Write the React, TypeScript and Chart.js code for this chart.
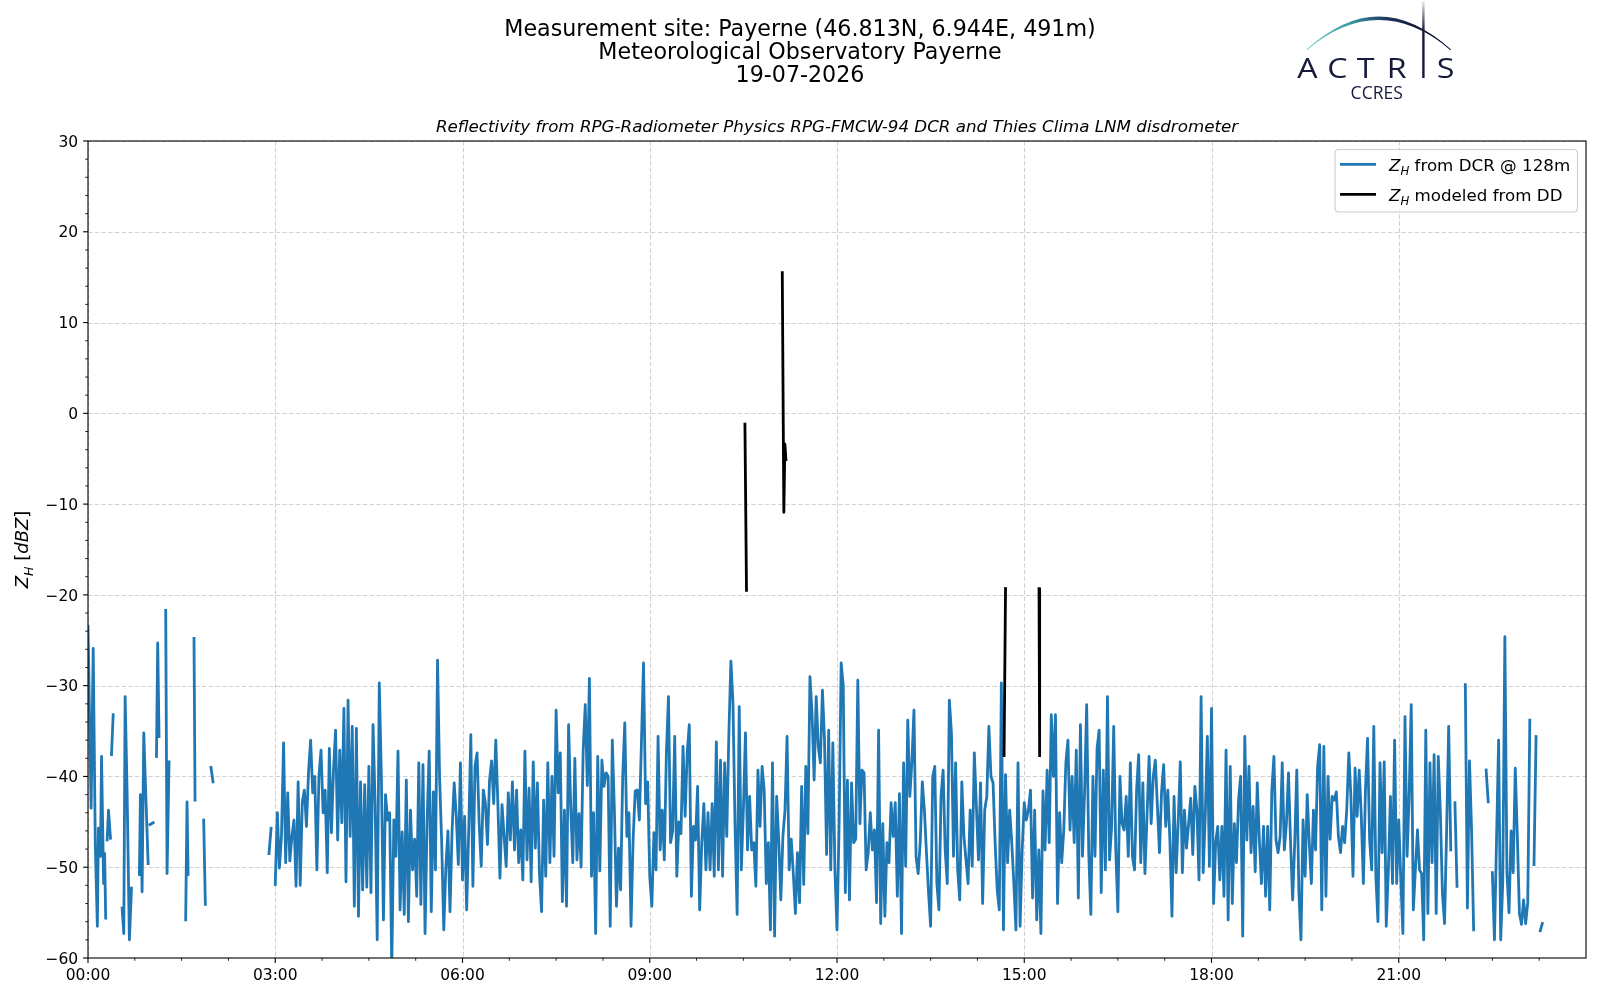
import React, { useEffect, useRef } from "react";
import { Chart, registerables } from "chart.js";

Chart.register(...registerables);

// ---------------- text ----------------
const titleLines = [
  "Measurement site: Payerne (46.813N, 6.944E, 491m)",
  "Meteorological Observatory Payerne",
  "19-07-2026",
];
const subtitle =
  "Reflectivity from RPG-Radiometer Physics RPG-FMCW-94 DCR and Thies Clima LNM disdrometer";
const legendDcrRest = " from DCR @ 128m";
const legendDdRest = " modeled from DD";

// ---------------- axes ----------------
const xMinMinute = 0;
const xMaxMinute = 1440;
const yMin = -60;
const yMax = 30;
const xTickMinutes = [0, 180, 360, 540, 720, 900, 1080, 1260];
const xTickLabels = ["00:00", "03:00", "06:00", "09:00", "12:00", "15:00", "18:00", "21:00"];
const xMinorMinutes = [45, 90, 135, 225, 270, 315, 405, 450, 495, 585, 630, 675, 765, 810, 855, 945, 990, 1035, 1125, 1170, 1215, 1305, 1350, 1395];
const yTickValues = [30, 20, 10, 0, -10, -20, -30, -40, -50, -60];
const yMinorValues = [28, 26, 24, 22, 18, 16, 14, 12, 8, 6, 4, 2, -2, -4, -6, -8, -12, -14, -16, -18, -22, -24, -26, -28, -32, -34, -36, -38, -42, -44, -46, -48, -52, -54, -56, -58];

// ---------------- data: DCR reflectivity @128m ----------------
// sparse early part (minutes after 00:00, dBZ); null = gap
const dcrEarlyMinutes = [0, 3, 5, 7, 9, 10, 12, 13, 15, 16, 17, 17.8, 18.4, 19.7, 21.6, 22.1, 22.6, 24.2, 28, 32.8, 34.4, 35.7, 37.6, 39.8, 41.8, 45, 49.4, 50.4, 52, 53.6, 55.5, 57.8, 58.7, 59.7, 62.6, 64, 65.8, 67, 68.3, 71, 74.7, 76, 77.9, 85, 93.9, 95.2, 96.2, 99, 101.9, 102.9, 107, 111.2, 112.8, 115, 118.2, 120.2];
const dcrEarlyDbz = [-23.5, -43.5, -25.9, -47.4, -56.5, -45.7, -48.8, -37.8, -51.8, -48.5, -55.6, null, -47, -43.7, -46.8, null, -37.6, -33.2, null, -54.5, -57.3, -31.2, -41.8, -58, -52.3, null, -50.8, -42, -52.7, -35.2, -41.8, -49.6, null, -45.3, -45.1, null, -37.8, -25.3, -35.6, null, -21.7, -50.7, -38.4, null, -55.8, -42.8, -50.8, null, -24.8, -42.6, null, -44.8, -54.1, null, -39, -40.6];

// regular part: one value every 2 minutes from 02:54
const dcrStartMinute = 174;
const dcrStepMinutes = 2;
const dcrDbz = [
  -48.5, -45.7, null, -51.9, -44, -50.1, -46.5, -36.3, -49.5, -41.8,
  -49.3, -46.6, -44.8, -52.1, -40.6, -52, -42.8, -41.5, -45.5, -39.5,
  -36, -41.8, -40, -50.3, -40, -37.1, -44, -41.5, -50.6, -36.9,
  -46.2, -39.3, -34.9, -47, -37.1, -45.1, -32.5, -51.6, -31.6, -46.6,
  -34.5, -54.3, -34.7, -55.4, -40.6, -52.5, -40.9, -52.2, -38.9, -52.8,
  -34.3, -43, -58, -29.7, -40, -55.8, -42, -44.8, -44, -61,
  -44.8, -48.8, -37.2, -54.7, -46.1, -55.2, -40.4, -56, -43.7, -50.3,
  -46.9, -53.2, -38.5, -54.1, -38.7, -57.3, -44.8, -37.2, -54.9, -41.7,
  -50.3, -27.2, -40.2, -47.3, -56.9, -50, -46, -54.9, -45.9, -40.7,
  -44.4, -49.7, -38.5, -51.4, -44.4, -54.7, -45.9, -35.4, -52.1, -38.9,
  -37.4, -45.1, -49.9, -41.5, -42.9, -47.5, -40.4, -38.3, -43, -36,
  -43, -51.2, -43.1, -46.6, -49.9, -41.8, -47, -40.6, -48.1, -41.5,
  -49.5, -45.9, -51.4, -37.2, -49.2, -41.3, -51.6, -38.4, -47.9, -40.7,
  -50.7, -54.9, -42.6, -51, -38.5, -49.5, -40, -48.8, -32.7, -41.8,
  -37.4, -53.8, -43.7, -54.3, -34.3, -43.3, -49.5, -38, -49.2, -44.1,
  -50, -37.1, -32.1, -41, -29.2, -51, -44, -57.3, -37.8, -50.4,
  -38.2, -41.1, -39.6, -40, -56.5, -36, -43.7, -54.3, -47.9, -52.5,
  -40, -34.1, -46.6, -44, -56.5, -47, -41.6, -41.5, -44.8, -36.3,
  -27.5, -43, -40.6, -51, -54.3, -46.2, -50.3, -35.6, -48.1, -43.7,
  -49.2, -37.4, -31.2, -47.3, -46, -35.6, -51, -45, -46.3, -36.7,
  -44.4, -37.4, -34.3, -53.2, -45.5, -47, -41.1, -54.7, -47.3, -43,
  -50.3, -44, -50.3, -43, -51, -36.2, -50.3, -38.2, -51, -38.5,
  -46.6, -35.6, -27.3, -31.9, -45.5, -55.2, -32.3, -50.3, -43.7, -35.2,
  -48.1, -42.2, -48.1, -47.3, -52.1, -39.3, -45.5, -38.9, -41.5, -51.8,
  -47.3, -56.9, -38.5, -57.6, -42.2, -47, -53.6, -46.6, -43.7, -35.6,
  -50.3, -46.9, -50.7, -55.1, -48.4, -53.9, -41.1, -51.9, -38.9, -46.3,
  -29, -33, -40.4, -31.2, -36.7, -38.5, -30.5, -36, -48.6, -34.9,
  -50.3, -36.3, -50.3, -56.9, -45.5, -27.5, -30, -52.8, -40.4, -53.6,
  -40.7, -47.3, -46.9, -29.4, -45.2, -39.3, -39.6, -50.3, -48.4, -44,
  -48.1, -45.9, -53.9, -34.9, -56.2, -45.2, -55.4, -47.3, -49.5, -42.9,
  -46.6, -42.9, -53.2, -41.9, -57.3, -38.5, -49.9, -33.8, -42.2, -38.4,
  -32.7, -48.8, -50.7, -47.3, -40.6, -43.7, -48.4, -52.8, -56.5, -40,
  -38.9, -51.8, -54.7, -42.2, -39.3, -48.1, -51.8, -31.6, -35.2, -48.8,
  -38.5, -50.3, -53.6, -40.6, -46.6, -49.2, -51.8, -43.7, -49.9, -37.4,
  -43.3, -49.2, -40.7, -54, -43.7, -42.2, -34.5, -40, -40.7, -47.3,
  -52.5, -54.7, -29.7, -56.9, -39.8, -49.5, -43.7, -47.3, -51.8, -56.9,
  -38.5, -56.5, -48.1, -42.9, -44.8, -43.7, -41.5, -53.4, -43.7, -55.8,
  -48.1, -57.3, -41.6, -48.1, -39.3, -47.3, -33.2, -40, -33.2, -54,
  -44, -49.5, -45.9, -38.5, -36, -45.9, -40, -47.3, -37.1, -53.4,
  -34.3, -48.8, -41.7, -32.1, -48.4, -55.2, -40, -48.8, -36.9, -34.9,
  -52.8, -39.3, -50.3, -31.2, -49.2, -45.5, -34.5, -48.1, -54.9, -40,
  -45.2, -45.9, -42.2, -48.8, -38.5, -48.8, -50.3, -41.5, -37.6, -49.5,
  -40.7, -50.7, -44.4, -37.8, -45.2, -40, -38.2, -43.3, -48.4, -41.7,
  -38.7, -45.5, -41.5, -47, -55.4, -42.2, -50.6, -45, -38.4, -50.6,
  -43.7, -47.9, -45.2, -42.4, -48.6, -41.1, -43.7, -51.4, -31.2, -50.6,
  -44.4, -35.6, -49.9, -32.5, -54, -47.3, -45.5, -51.4, -45.5, -53.2,
  -37.1, -55.8, -38.9, -54, -45.2, -49.5, -42.6, -40, -57.6, -35.6,
  -47, -38.9, -48.4, -43.3, -50.5, -40.7, -47, -51.8, -45.5, -53.2,
  -45.5, -54.7, -41.5, -37.8, -47, -48.4, -46.6, -38.5, -48.1, -45.2,
  -39.6, -47.3, -53.6, -47.3, -39.3, -52.8, -58, -44.8, -51, -42,
  -47.3, -51.8, -43.7, -48.1, -38.9, -36.5, -54.7, -36.7, -53.2, -40,
  -46.9, -42.2, -42.6, -41.7, -46.6, -48.4, -45.5, -47.3, -43.7, -37.4,
  -42.2, -51, -39.1, -44.4, -39.3, -44.4, -51.8, -41.5, -35.8, -47,
  -50.3, -34.5, -51, -56, -38.5, -48.4, -38.4, -56.5, -50.3, -42.2,
  -51.8, -36, -51.8, -44.8, -51.4, -57.3, -33.4, -48.8, -42.2, -32.1,
  -54.7, -50.3, -45.9, -50.3, -50.7, -58, -34.9, -55.1, -38.5, -49.5,
  -37.6, -55.1, -37.8, -44, -52.9, -56.2, -46.1, -34.5, -48.1, null,
  -42.9, -52.1, null, null, null, -29.9, -54.5, -38.3, -45.9, -56.9,
  null, null, null, null, null, -39.3, -42.8, null, -50.6, -58,
  -47, -36, -58, -51.6, -24.6, -50.6, -55, -46, -50.6, -39.1,
  -46.6, -55.1, -56.3, -53.6, -56.2, -53.9, -33.8, null, -49.7, -35.6,
  null, -57, -56.2,
];

// ---------------- data: Z_H modeled from disdrometer ----------------
const ddMinutes = [631.5, 633, 650, 667.4, 668.9, 669.9, 670.9, 800, 880.6, 882, 900, 914.2, 914.8];
const ddDbz = [-1.2, -19.5, null, 15.5, -10.9, -3.4, -5.1, null, -37.7, -19.3, null, -19.3, -37.7];

// ---------------- styles ----------------
const FONT = '"DejaVu Sans", "Liberation Sans", sans-serif';
const DCR_COLOR = "#1f77b4";
const DD_COLOR = "#000000";
const GRID_COLOR = "#d2d2d2";
const NAVY = "#161b3d";

type Seg = { t: string; it?: boolean; sub?: boolean };

function segFont(fs: number, s: Seg) {
  const size = s.sub ? fs * 0.7 : fs;
  return `${s.it ? "italic " : ""}${size}px ${FONT}`;
}
function segsWidth(ctx: CanvasRenderingContext2D, segs: Seg[], fs: number) {
  let w = 0;
  for (const s of segs) {
    ctx.font = segFont(fs, s);
    w += ctx.measureText(s.t).width;
  }
  return w;
}
function drawSegs(ctx: CanvasRenderingContext2D, segs: Seg[], x: number, y: number, fs: number) {
  ctx.textAlign = "left";
  ctx.textBaseline = "alphabetic";
  let cx = x;
  for (const s of segs) {
    ctx.font = segFont(fs, s);
    ctx.fillText(s.t, cx, y + (s.sub ? fs * 0.28 : 0));
    cx += ctx.measureText(s.t).width;
  }
}

function fmtY(v: number) {
  return v < 0 ? "\u2212" + Math.abs(v) : String(v);
}

function drawLogo(ctx: CanvasRenderingContext2D) {
  ctx.save();
  const g = ctx.createLinearGradient(1306, 0, 1451, 0);
  g.addColorStop(0, "#7fd3cc");
  g.addColorStop(0.3, "#3b9aa6");
  g.addColorStop(0.55, "#1f3a5f");
  g.addColorStop(0.72, NAVY);
  g.addColorStop(1, NAVY);
  ctx.fillStyle = g;
  ctx.beginPath();
  ctx.moveTo(1306.7, 49.8);
  ctx.quadraticCurveTo(1378.7, -16.6, 1450.7, 49.8);
  ctx.quadraticCurveTo(1378.7, -9.8, 1306.7, 49.8);
  ctx.closePath();
  ctx.fill();
  ctx.strokeStyle = g;
  ctx.lineWidth = 1.1;
  ctx.beginPath();
  ctx.moveTo(1306.7, 49.8);
  ctx.quadraticCurveTo(1378.7, -13.2, 1450.7, 49.8);
  ctx.stroke();

  const vg = ctx.createLinearGradient(0, 0, 0, 30);
  vg.addColorStop(0, "rgba(22,27,61,0.05)");
  vg.addColorStop(1, NAVY);
  ctx.fillStyle = vg;
  ctx.fillRect(1422.2, 1, 2.4, 77);

  ctx.fillStyle = NAVY;
  ctx.textAlign = "center";
  ctx.textBaseline = "alphabetic";
  ctx.font = `500 28px "Open Sans", ${FONT}`;
  const letters: [string, number][] = [["A", 1307.5], ["C", 1337.5], ["T", 1365.7], ["R", 1396.7], ["S", 1445.7]];
  for (const [ch, cx] of letters) {
    ctx.save();
    ctx.translate(cx, 77.7);
    ctx.scale(1.15, 1);
    ctx.fillText(ch, 0, 0);
    ctx.restore();
  }
  ctx.font = `400 17.5px "Open Sans", ${FONT}`;
  ctx.fillText("CCRES", 1376.7, 99);
  ctx.restore();
}

const decorPlugin = {
  id: "decor",
  beforeDraw(chart: any) {
    const ctx: CanvasRenderingContext2D = chart.ctx;
    const area = chart.chartArea;
    ctx.save();
    ctx.fillStyle = "#ffffff";
    ctx.fillRect(0, 0, chart.width, chart.height);
    ctx.fillStyle = "#000";
    ctx.textAlign = "center";
    ctx.textBaseline = "alphabetic";
    ctx.font = `22.2px ${FONT}`;
    const baselines = [36, 58.5, 81.5];
    titleLines.forEach((t, i) => ctx.fillText(t, 800, baselines[i]));
    ctx.font = `italic 16.7px ${FONT}`;
    ctx.fillText(subtitle, (area.left + area.right) / 2, 131.5);
    ctx.restore();
    drawLogo(ctx);
  },
  beforeDatasetsDraw(chart: any) {
    const ctx: CanvasRenderingContext2D = chart.ctx;
    const area = chart.chartArea;
    const xs = chart.scales.x;
    const ys = chart.scales.y;
    ctx.save();
    ctx.beginPath();
    ctx.rect(area.left, area.top, area.right - area.left, area.bottom - area.top);
    ctx.clip();
    ctx.strokeStyle = GRID_COLOR;
    ctx.lineWidth = 1.1;
    ctx.setLineDash([4.5, 2.2]);
    for (const m of xTickMinutes) {
      const px = Math.round(xs.getPixelForValue(m)) + 0.5;
      ctx.beginPath();
      ctx.moveTo(px, area.top);
      ctx.lineTo(px, area.bottom);
      ctx.stroke();
    }
    for (const v of yTickValues) {
      const py = Math.round(ys.getPixelForValue(v)) + 0.5;
      ctx.beginPath();
      ctx.moveTo(area.left, py);
      ctx.lineTo(area.right, py);
      ctx.stroke();
    }
    ctx.restore();
  },
  afterDatasetsDraw(chart: any) {
    const ctx: CanvasRenderingContext2D = chart.ctx;
    const area = chart.chartArea;
    const xs = chart.scales.x;
    const ys = chart.scales.y;
    ctx.save();
    // spines
    ctx.strokeStyle = "#000";
    ctx.lineWidth = 1.1;
    ctx.strokeRect(area.left, area.top, area.right - area.left, area.bottom - area.top);
    // ticks
    ctx.lineWidth = 1.1;
    for (const m of xTickMinutes) {
      const px = xs.getPixelForValue(m);
      ctx.beginPath();
      ctx.moveTo(px, area.bottom);
      ctx.lineTo(px, area.bottom + 4.9);
      ctx.stroke();
    }
    for (const v of yTickValues) {
      const py = ys.getPixelForValue(v);
      ctx.beginPath();
      ctx.moveTo(area.left, py);
      ctx.lineTo(area.left - 4.9, py);
      ctx.stroke();
    }
    ctx.lineWidth = 0.85;
    for (const m of xMinorMinutes) {
      const px = xs.getPixelForValue(m);
      ctx.beginPath();
      ctx.moveTo(px, area.bottom);
      ctx.lineTo(px, area.bottom + 2.8);
      ctx.stroke();
    }
    for (const v of yMinorValues) {
      const py = ys.getPixelForValue(v);
      ctx.beginPath();
      ctx.moveTo(area.left, py);
      ctx.lineTo(area.left - 2.8, py);
      ctx.stroke();
    }
    // tick labels
    const tfs = 15.5;
    ctx.fillStyle = "#000";
    ctx.font = `${tfs}px ${FONT}`;
    ctx.textAlign = "center";
    ctx.textBaseline = "alphabetic";
    xTickMinutes.forEach((m, i) => {
      ctx.fillText(xTickLabels[i], xs.getPixelForValue(m), area.bottom + 9.8 + tfs * 0.76);
    });
    ctx.textAlign = "right";
    for (const v of yTickValues) {
      ctx.fillText(fmtY(v), area.left - 9.8, ys.getPixelForValue(v) + tfs * 0.365);
    }
    // y label
    const lfs = 18;
    const ySegs: Seg[] = [{ t: "Z", it: true }, { t: "H", it: true, sub: true }, { t: " [" }, { t: "dBZ", it: true }, { t: "]" }];
    const lw = segsWidth(ctx, ySegs, lfs);
    ctx.save();
    ctx.translate(28, (area.top + area.bottom) / 2);
    ctx.rotate(-Math.PI / 2);
    drawSegs(ctx, ySegs, -lw / 2, 0, lfs);
    ctx.restore();

    // legend
    const lgFs = 16.7;
    const box = { l: 1335, t: 149.5, r: 1577.5, b: 212 };
    const rad = 4;
    ctx.beginPath();
    ctx.moveTo(box.l + rad, box.t);
    ctx.lineTo(box.r - rad, box.t);
    ctx.quadraticCurveTo(box.r, box.t, box.r, box.t + rad);
    ctx.lineTo(box.r, box.b - rad);
    ctx.quadraticCurveTo(box.r, box.b, box.r - rad, box.b);
    ctx.lineTo(box.l + rad, box.b);
    ctx.quadraticCurveTo(box.l, box.b, box.l, box.b - rad);
    ctx.lineTo(box.l, box.t + rad);
    ctx.quadraticCurveTo(box.l, box.t, box.l + rad, box.t);
    ctx.closePath();
    ctx.fillStyle = "rgba(255,255,255,0.8)";
    ctx.fill();
    ctx.strokeStyle = "#cccccc";
    ctx.lineWidth = 1.1;
    ctx.stroke();
    const rows: [string, string, number][] = [
      [DCR_COLOR, legendDcrRest, 164.3],
      [DD_COLOR, legendDdRest, 194.3],
    ];
    for (const [col, rest, cy] of rows) {
      ctx.strokeStyle = col;
      ctx.lineWidth = 2.8;
      ctx.beginPath();
      ctx.moveTo(1340, cy);
      ctx.lineTo(1376, cy);
      ctx.stroke();
      ctx.fillStyle = "#000";
      drawSegs(ctx, [{ t: "Z", it: true }, { t: "H", it: true, sub: true }, { t: rest }], 1389, cy + 6.2, lgFs);
    }
    ctx.restore();
  },
};

export default function App() {
  const ref = useRef<HTMLCanvasElement>(null);
  useEffect(() => {
    const canvas = ref.current;
    if (!canvas) return;
    const dcrPoints: { x: number; y: number | null }[] = [];
    dcrEarlyMinutes.forEach((m, i) => dcrPoints.push({ x: m, y: dcrEarlyDbz[i] }));
    dcrPoints.push({ x: 150, y: null });
    dcrDbz.forEach((v, i) => dcrPoints.push({ x: dcrStartMinute + i * dcrStepMinutes, y: v }));
    const ddPoints = ddMinutes.map((m, i) => ({ x: m, y: ddDbz[i] }));

    const chart = new Chart(canvas, {
      type: "line",
      data: {
        datasets: [
          {
            label: "DCR",
            data: dcrPoints as any,
            borderColor: DCR_COLOR,
            backgroundColor: DCR_COLOR,
            borderWidth: 2.8,
            pointRadius: 0,
            tension: 0,
            spanGaps: false,
            borderJoinStyle: "round",
            borderCapStyle: "square",
            order: 2,
          },
          {
            label: "DD",
            data: ddPoints as any,
            borderColor: DD_COLOR,
            backgroundColor: DD_COLOR,
            borderWidth: 2.8,
            pointRadius: 0,
            tension: 0,
            spanGaps: false,
            borderJoinStyle: "round",
            borderCapStyle: "square",
            order: 1,
          },
        ],
      },
      options: {
        animation: false,
        responsive: false,
        devicePixelRatio: 1,
        events: [],
        layout: { padding: { left: 88, top: 141, right: 14, bottom: 42 } },
        scales: {
          x: { type: "linear", min: xMinMinute, max: xMaxMinute, display: false },
          y: { type: "linear", min: yMin, max: yMax, display: false },
        },
        plugins: {
          legend: { display: false },
          title: { display: false },
          tooltip: { enabled: false },
        },
      },
      plugins: [decorPlugin as any],
    });
    return () => chart.destroy();
  }, []);

  return (
    <div style={{ position: "fixed", left: 0, top: 0, width: 1600, height: 1000, background: "#fff" }}>
      <canvas ref={ref} width={1600} height={1000} style={{ width: 1600, height: 1000, display: "block" }} />
    </div>
  );
}
